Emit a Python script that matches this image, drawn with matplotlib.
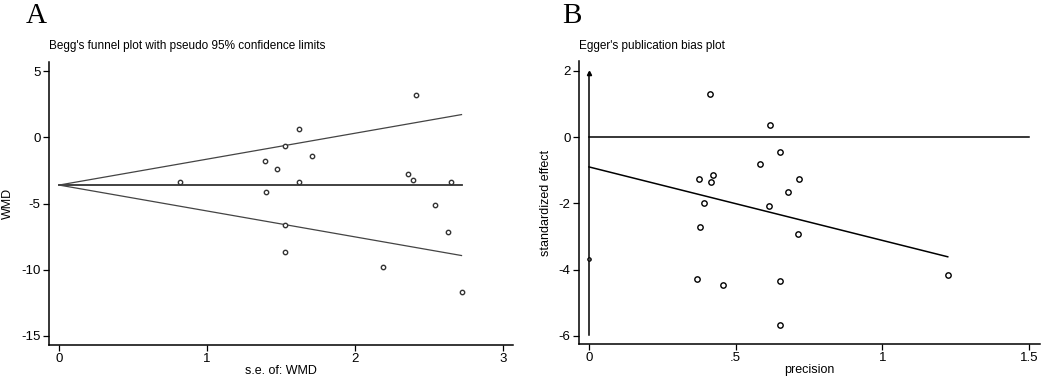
import numpy as np
import matplotlib
matplotlib.use('Agg')
import matplotlib.pyplot as plt

# Begg's funnel plot data (panel A)
begg_se = [0.82, 1.39, 1.47, 1.40, 1.53, 1.62, 1.62, 1.71, 1.53, 1.53,
           2.19, 2.36, 2.39, 2.41, 2.54, 2.65, 2.63, 2.72]
begg_wmd = [-3.39, -1.75, -2.38, -4.12, -0.67, 0.64, -3.39, -1.40, -6.64, -8.68,
            -9.81, -2.73, -3.21, 3.21, -5.08, -3.39, -7.12, -11.68]
pooled_wmd = -3.6

# Egger's plot data (panel B)
egger_prec = [0.411, 0.618, 0.651, 0.583, 0.422, 0.376, 0.416, 0.716, 0.677, 0.391,
              0.614, 0.380, 0.714, 0.367, 0.457, 0.651, 0.651, 1.223]
egger_eff = [1.31, 0.38, -0.46, -0.82, -1.15, -1.26, -1.35, -1.26, -1.65, -1.99,
             -2.08, -2.71, -2.94, -4.28, -4.47, -4.35, -5.68, -4.17]
egger_intercept = -0.9
egger_slope = -2.22
ci_low, ci_high = -5.98, 1.93
intercept_pt = -3.67

plt.rcParams['font.family'] = ['Liberation Sans', 'DejaVu Sans']
plt.rcParams['axes.unicode_minus'] = False
W, H = 1045, 377
fig = plt.figure(figsize=(W / 100, H / 100), dpi=100)


def box(l, r, t, b):
    return [l / W, 1 - b / H, (r - l) / W, (b - t) / H]


def style(ax):
    for s in ['top', 'right']:
        ax.spines[s].set_visible(False)
    for s in ['left', 'bottom']:
        ax.spines[s].set_linewidth(1.1)
    ax.tick_params(direction='out', length=4, width=0.9, labelsize=9.5, pad=2)


# Panel A
axA = fig.add_axes(box(49, 513, 62, 345))
se_max = max(begg_se)
se_line = np.array([0, se_max])
axA.plot(se_line, [pooled_wmd, pooled_wmd], color='#333333', lw=1.3)
axA.plot(se_line, pooled_wmd + 1.96 * se_line, color='#444444', lw=0.9)
axA.plot(se_line, pooled_wmd - 1.96 * se_line, color='#444444', lw=0.9)
axA.scatter(begg_se, begg_wmd, s=10, facecolors='white', edgecolors='#333333', linewidths=1.0, zorder=3)
axA.set_xlim(-0.068, 3.068)
axA.set_ylim(-15.7, 5.71)
axA.set_xticks([0, 1, 2, 3])
axA.set_yticks([5, 0, -5, -10, -15])
style(axA)
axA.set_xlabel('s.e. of: WMD', fontsize=9, labelpad=0)
axA.set_ylabel('WMD', fontsize=9, labelpad=5)
axA.set_title("Begg's funnel plot with pseudo 95% confidence limits", fontsize=8.5,
              loc='left', pad=9, x=0)
fig.text(26 / W, 1 - 23 / H, 'A', fontsize=21, family='Liberation Serif')

# Panel B
axB = fig.add_axes(box(579, 1040, 61, 344))
axB.plot([0, 1.5], [0, 0], color='black', lw=1.1)
prec_line = np.array([0, max(egger_prec)])
axB.plot(prec_line, egger_intercept + egger_slope * prec_line, color='black', lw=1.1)
axB.plot([0, 0], [ci_low, ci_high], color='black', lw=1.1)
axB.plot([0], [ci_high], marker='^', ms=3, color='black')
axB.plot([0], [intercept_pt], marker='o', ms=2.5, mfc='#555555', mec='black', mew=0.8)
axB.scatter(egger_prec, egger_eff, s=15, facecolors='white', edgecolors='black', linewidths=1.0, zorder=3)
axB.set_xlim(-0.034, 1.5375)
axB.set_ylim(-6.25, 2.30)
axB.set_xticks([0, 0.5, 1, 1.5])
axB.set_xticklabels(['0', '.5', '1', '1.5'])
axB.set_yticks([2, 0, -2, -4, -6])
style(axB)
axB.set_xlabel('precision', fontsize=9, labelpad=0)
axB.set_ylabel('standardized effect', fontsize=9, labelpad=5)
axB.set_title("Egger's publication bias plot", fontsize=8.5, loc='left', pad=9, x=0)
fig.text(562 / W, 1 - 23 / H, 'B', fontsize=21, family='Liberation Serif')

fig.savefig('out.png', dpi=100)
